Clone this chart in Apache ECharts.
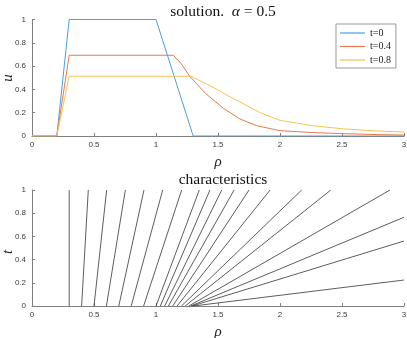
<!DOCTYPE html>
<html>
<head>
<meta charset="utf-8">
<script src="https://cdn.jsdelivr.net/npm/echarts@6/dist/echarts.min.js"></script>
<style>
	html, body { margin: 0; padding: 0; background: #fff; }
	#chart { width: 407px; height: 338px; }
</style>
</head>
<body>
<div id="chart"></div>
<script>
// solution u(rho) at three times
let rho0 = [0, 0.2, 0.3, 1.0, 1.3, 3.0];
let u0 = [0, 0, 1, 1, 0, 0];

let rho04 = [0, 0.2, 0.3, 1.14, 1.2, 1.274, 1.4, 1.543, 1.677, 1.81, 2.0, 2.25, 2.5, 2.75, 3.0];
let u04 = [0, 0, 0.693, 0.693, 0.625, 0.51, 0.365, 0.238, 0.146, 0.089, 0.046, 0.03, 0.02, 0.013, 0.008];

let rho08 = [0, 0.2, 0.3, 1.28, 1.4, 1.5, 1.6, 1.7, 1.84, 2.0, 2.25, 2.5, 2.75, 3.0];
let u08 = [0, 0, 0.513, 0.513, 0.45, 0.395, 0.335, 0.28, 0.2, 0.135, 0.09, 0.062, 0.045, 0.034];

let seriesNames = ['t=0', 't=0.4', 't=0.8'];

// characteristics: start rho at t=0, end point (rho, t)
let charStart = [0.3, 0.4, 0.5, 0.6, 0.7, 0.8, 0.9, 1.0, 1.035, 1.07, 1.1, 1.135, 1.17, 1.205, 1.235, 1.265, 1.28, 1.29, 1.3];
let charEndRho = [0.3, 0.454, 0.602, 0.753, 0.903, 1.054, 1.207, 1.349, 1.435, 1.53, 1.63, 1.75, 1.92, 2.175, 2.41, 2.887, 3, 3, 3];
let charEndT = [1, 1, 1, 1, 1, 1, 1, 1, 1, 1, 1, 1, 1, 1, 1, 1, 0.765, 0.56, 0.224];

var myChart = echarts.init(document.getElementById('chart'));

function pairs(xs, ys) {
	let out = [];
	for (let i = 0; i < xs.length; i++) {
		out.push([xs[i], ys[i]]);
	}
	return out;
}

var axisCol = '#808080';
var labelCol = '#3a3a3a';
var serif = '"Liberation Serif", "DejaVu Serif", serif';
var sans = '"Liberation Sans", Arial, sans-serif';

function xAx(idx) {
	return {
		type: 'value',
		gridIndex: idx,
		min: 0,
		max: 3,
		interval: 0.5,
		name: 'ρ',
		nameLocation: 'middle',
		nameGap: 19,
		nameMoveOverlap: false,
		nameTextStyle: { fontFamily: serif, fontStyle: 'italic', fontSize: 15, color: '#222' },
		axisLine: { lineStyle: { color: axisCol, width: 1 } },
		axisTick: { inside: true, length: 3, lineStyle: { color: axisCol } },
		axisLabel: { fontSize: 8, color: labelCol, fontFamily: sans, margin: 5 },
		splitLine: { show: false },
	};
}

function yAx(idx) {
	return {
		type: 'value',
		gridIndex: idx,
		min: 0,
		max: 1,
		interval: 0.2,
		axisLine: { show: true, lineStyle: { color: axisCol, width: 1 } },
		axisTick: { show: true, inside: true, length: 3, lineStyle: { color: axisCol } },
		axisLabel: { fontSize: 8, color: labelCol, fontFamily: sans, margin: 6 },
		splitLine: { show: false },
	};
}

// rotated y axis names
function yName(txt, cy) {
	return {
		type: 'text',
		x: 8,
		y: cy,
		rotation: Math.PI / 2,
		style: {
			text: txt,
			font: 'italic 15px ' + serif,
			fill: '#222',
			align: 'center',
			verticalAlign: 'middle',
		},
	};
}

let colors = ['#4a9fdd', '#e8794a', '#f0c550'];
let series = [];
let solData = [pairs(rho0, u0), pairs(rho04, u04), pairs(rho08, u08)];
for (let i = 0; i < 3; i++) {
	series.push({
		name: seriesNames[i],
		type: 'line',
		xAxisIndex: 0,
		yAxisIndex: 0,
		data: solData[i],
		symbol: 'none',
		smooth: false,
		lineStyle: { color: colors[i], width: 1 },
		itemStyle: { color: colors[i] },
		z: 3 + i,
	});
}
for (let i = 0; i < charStart.length; i++) {
	series.push({
		type: 'line',
		xAxisIndex: 1,
		yAxisIndex: 1,
		data: [[charStart[i], 0], [charEndRho[i], charEndT[i]]],
		symbol: 'none',
		lineStyle: { color: '#333', width: 0.8 },
		silent: true,
	});
}

var option = {
	animation: false,
	backgroundColor: '#fff',
	title: [
		{
			text: '{n|solution.  }{a|α}{n| = 0.5}',
			left: 218,
			top: -1,
			textAlign: 'center',
			textStyle: {
				fontWeight: 'normal',
				rich: {
					n: { fontFamily: serif, fontSize: 15.5, fontWeight: 'normal', color: '#111' },
					a: { fontFamily: serif, fontSize: 15.5, fontWeight: 'normal', fontStyle: 'italic', color: '#111' },
				},
			},
		},
		{
			text: 'characteristics',
			left: 218,
			top: 167,
			textAlign: 'center',
			textStyle: { fontFamily: serif, fontSize: 15.5, fontWeight: 'normal', color: '#111' },
		},
	],
	graphic: [yName('u', 78), yName('t', 252)],
	legend: {
		data: seriesNames,
		orient: 'vertical',
		left: 336,
		top: 24,
		icon: 'rect',
		backgroundColor: '#fff',
		borderColor: '#999',
		borderWidth: 1,
		borderRadius: 0,
		padding: [4, 5, 3, 4],
		itemGap: 3.5,
		itemWidth: 25,
		itemHeight: 1.2,
		textStyle: { fontFamily: serif, fontSize: 10, color: '#222', lineHeight: 10 },
	},
	grid: [
		{ left: 32, right: 3, top: 19.5, height: 116.5, containLabel: false, outerBoundsMode: 'none' },
		{ left: 32, right: 3, top: 190, height: 116, containLabel: false, outerBoundsMode: 'none' },
	],
	xAxis: [xAx(0), xAx(1)],
	yAxis: [yAx(0), yAx(1)],
	series: series,
};

option && myChart.setOption(option);
</script>
</body>
</html>
